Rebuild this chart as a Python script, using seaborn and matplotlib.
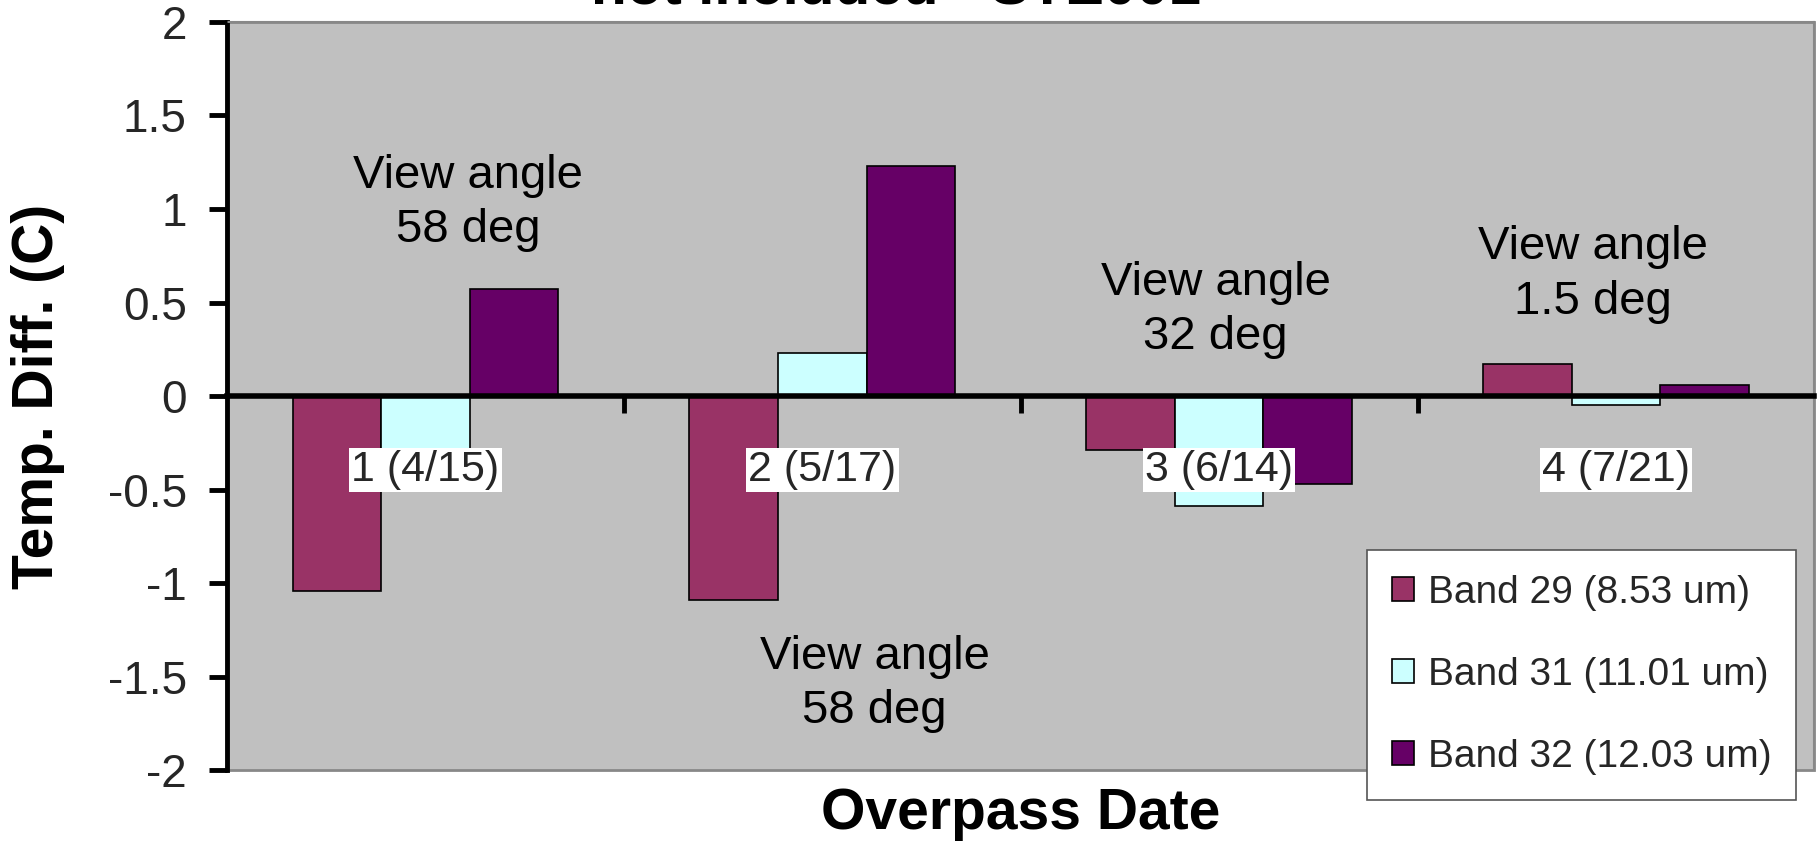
import numpy as np
import pandas as pd
import matplotlib
matplotlib.use('Agg')
import matplotlib.pyplot as plt
import seaborn as sns

# ---------------- data ----------------
dates = ['1 (4/15)', '2 (5/17)', '3 (6/14)', '4 (7/21)']
bands = ['Band 29 (8.53 um)', 'Band 31 (11.01 um)', 'Band 32 (12.03 um)']
band29 = [-1.04, -1.09, -0.29, 0.17]
band31 = [-0.45, 0.23, -0.59, -0.05]
band32 = [0.57, 1.23, -0.47, 0.06]
colors = ['#993366', '#CCFFFF', '#660066']
ytick_values = [-2, -1.5, -1, -0.5, 0, 0.5, 1, 1.5, 2]
ytick_labels = ['-2', '-1.5', '-1', '-0.5', '0', '0.5', '1', '1.5', '2']
annot_texts = ['View angle\n58 deg', 'View angle\n58 deg',
               'View angle\n32 deg', 'View angle\n1.5 deg']
annot_x = [0.107, 1.132, 1.991, 2.941]
annot_y = [1.03, -1.54, 0.46, 0.65]
title = 'not included - STE001'
xlabel = 'Overpass Date'
ylabel = 'Temp. Diff. (C)'

df = pd.DataFrame({
    'date': dates * 3,
    'band': np.repeat(bands, len(dates)),
    'diff': band29 + band31 + band32,
})

# ---------------- style ----------------
sns.set_theme(style='white')
plt.rcParams['font.family'] = ['Liberation Sans', 'DejaVu Sans']
plt.rcParams['axes.unicode_minus'] = False

fig = plt.figure(figsize=(18.18, 8.52), dpi=100)
ax = fig.add_axes([0.1249, 0.0962, 0.8731, 0.8780])

sns.barplot(data=df, x='date', y='diff', hue='band', order=dates,
            hue_order=bands, palette=colors, saturation=1,
            edgecolor='black', linewidth=1.2, width=0.67,
            errorbar=None, ax=ax)

ax.set_xlim(-0.5, 3.5)
ax.set_ylim(-2, 2)
ax.set_facecolor('#C0C0C0')
ax.patch.set_edgecolor('#888888')
ax.patch.set_linewidth(2)
ax.set_axisbelow(False)

for s in ['top', 'right']:
    ax.spines[s].set_color('#888888')
    ax.spines[s].set_linewidth(1.5)
ax.spines['left'].set_color('black')
ax.spines['left'].set_linewidth(3.5)
ax.spines['bottom'].set_position(('data', 0))
ax.spines['bottom'].set_color('black')
ax.spines['bottom'].set_linewidth(4)

ax.set_yticks(ytick_values, ytick_labels)
ax.tick_params(axis='y', direction='out', length=13, width=3.5,
               color='black', labelsize=33, pad=16, left=True)

ax.set_xticks(range(len(dates)), dates)
ax.set_xticks([0.5, 1.5, 2.5], minor=True)
ax.tick_params(axis='x', which='major', length=0, labelsize=31, pad=39,
               bottom=True)
ax.tick_params(axis='x', which='minor', direction='out', length=12,
               width=3.5, color='black', bottom=True)
for t in ax.get_xticklabels():
    t.set_bbox(dict(facecolor='white', edgecolor='none', pad=1.5))

for txt, x, y in zip(annot_texts, annot_x, annot_y):
    ax.text(x, y, txt, ha='center', va='center', fontsize=34,
            linespacing=1.3, color='black')

ax.set_xlabel(xlabel, fontsize=41, fontweight='bold', color='black')
ax.xaxis.set_label_coords(0.5, -0.023)
ax.set_ylabel(ylabel, fontsize=41, fontweight='bold', color='black')
ax.yaxis.set_label_coords(-0.102, 0.5)

fig.text(0.493, 1 - 4 / 852, title, ha='center', va='baseline',
         fontsize=42, fontweight='bold', color='black')

handles, labels = ax.get_legend_handles_labels()
leg = ax.legend(handles, labels, loc='center',
                bbox_to_anchor=(1581.5 / 1818, 1 - 675 / 852),
                bbox_transform=fig.transFigure, fontsize=28,
                frameon=True, fancybox=False, shadow=False,
                edgecolor='#555555', facecolor='white', framealpha=1,
                handlelength=0.57, handleheight=0.57, handletextpad=0.35,
                labelspacing=1.18, borderpad=0.65, borderaxespad=0)
leg.get_frame().set_linewidth(1.2)
for h in leg.legend_handles:
    h.set_edgecolor('black')
    h.set_linewidth(1.2)

fig.savefig('out.png', dpi=100)
